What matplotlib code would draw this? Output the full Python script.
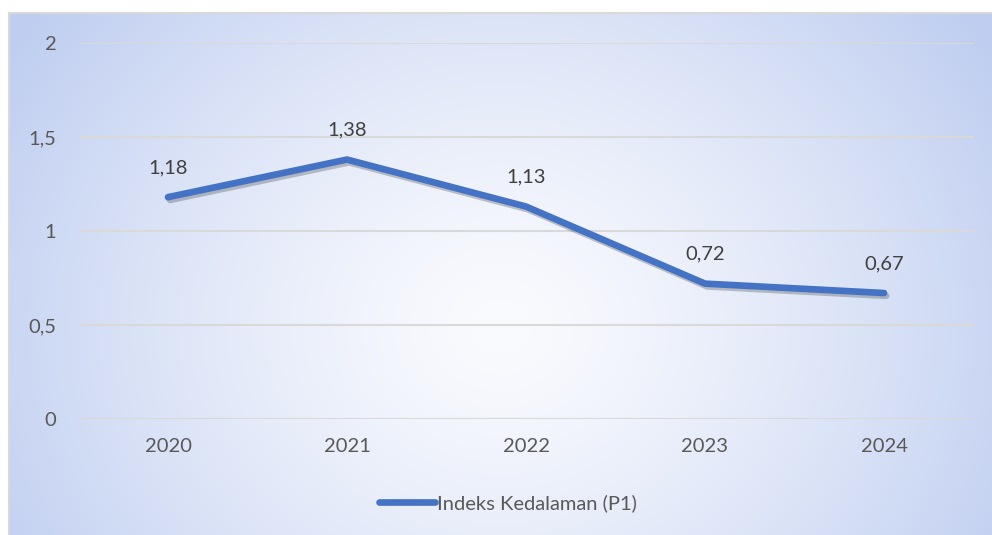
import numpy as np
import matplotlib
matplotlib.use("Agg")
import matplotlib.pyplot as plt
import matplotlib.patheffects as pe

# data
years = ["2020", "2021", "2022", "2023", "2024"]
p1 = [1.18, 1.38, 1.13, 0.72, 0.67]
p1_labels = ["1,18", "1,38", "1,13", "0,72", "0,67"]
y_ticks = [0, 0.5, 1, 1.5, 2]
y_tick_labels = ["0", "0,5", "1", "1,5", "2"]
series_name = "Indeks Kedalaman (P1)"

plt.rcParams["font.family"] = ["Lato", "DejaVu Sans"]
FS = 14.5

W, H = 992, 535
fig = plt.figure(figsize=(W / 100, H / 100), dpi=100)
fig.patch.set_facecolor("white")

# background panel with radial gradient
bg = fig.add_axes([9 / W, 0, (W - 9) / W, (H - 13) / H])
bw, bh = W - 9, H - 13
xx, yy = np.meshgrid(np.arange(bw), np.arange(bh))
cx, cy = bw * 0.5, bh * 0.6
d = np.sqrt(((xx - cx) / (bw * 0.6)) ** 2 + ((yy - cy) / (bh * 1.0)) ** 2)
d = np.clip(d, 0, 1) ** 1.3
inner = np.array([250, 251, 254]) / 255
outer = np.array([190, 205, 240]) / 255
img = inner[None, None, :] * (1 - d[..., None]) + outer[None, None, :] * d[..., None]
bg.imshow(img, aspect="auto", extent=[0, 1, 0, 1], origin="upper")
bg.set_xticks([])
bg.set_yticks([])
for side, s in bg.spines.items():
    if side in ("top", "left"):
        s.set_color("#D9D9D9")
        s.set_linewidth(1.5)
    else:
        s.set_visible(False)

# plot area
ax = fig.add_axes([78.5 / W, (H - 419) / H, (973.5 - 78.5) / W, (419 - 43) / H])
ax.patch.set_alpha(0)
x = np.arange(len(years))
ax.plot(
    x, p1,
    color="#4472C4",
    linewidth=4.8,
    solid_capstyle="round",
    solid_joinstyle="round",
    path_effects=[
        pe.SimpleLineShadow(offset=(1.5, -2), shadow_color="#000000", alpha=0.22),
        pe.Normal(),
    ],
    zorder=3,
)
for xi, yi, lab in zip(x, p1, p1_labels):
    ax.annotate(lab, (xi, yi), xytext=(0, 15), textcoords="offset points",
                ha="center", va="bottom", fontsize=FS, color="#404040")

ax.set_xlim(-0.5, len(years) - 0.5)
ax.set_ylim(0, 2)
ax.set_xticks(x)
ax.set_xticklabels(years)
ax.set_yticks(y_ticks)
ax.set_yticklabels(y_tick_labels)
ax.tick_params(axis="both", length=0, labelsize=FS, labelcolor="#595959")
ax.tick_params(axis="y", pad=16)
ax.tick_params(axis="x", pad=14)
ax.grid(axis="y", color="#D9D9D9", linewidth=1.5)
ax.set_axisbelow(True)
for s in ax.spines.values():
    s.set_visible(False)

# legend
leg = fig.legend(
    [plt.Line2D([], [], color="#4472C4", linewidth=4.8, solid_capstyle="round")],
    [series_name],
    loc="center", bbox_to_anchor=(508 / W, (H - 503) / H),
    frameon=False, fontsize=FS, handlelength=2.8, handletextpad=0.1,
    labelcolor="#595959",
)

fig.savefig("out.png", dpi=100)
